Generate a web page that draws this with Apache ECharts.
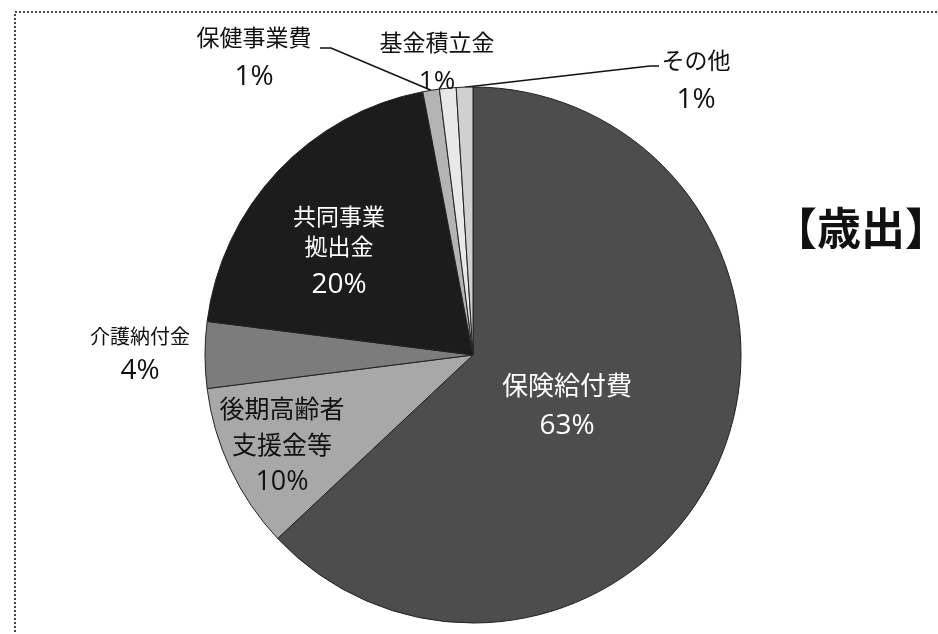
<!DOCTYPE html>
<html>
<head>
<meta charset="utf-8">
<script src="https://cdn.jsdelivr.net/npm/echarts@6/dist/echarts.min.js"></script>
<style>
  html, body { margin: 0; padding: 0; background: #ffffff; }
  #chart { width: 938px; height: 634px; }
</style>
</head>
<body>
<div id="chart"></div>
<script>
// 歳出の内訳（構成比, %）
const categories = ['保険給付費', '後期高齢者\n支援金等', '介護納付金', '共同事業\n拠出金', '保健事業費', '基金積立金', 'その他'];
const shares = [63, 10, 4, 20, 1, 1, 1];
const sliceColors = ['#4d4d4d', '#a8a8a8', '#7c7c7c', '#1c1c1c', '#b4b4b4', '#e8e8e8', '#d0d0d0'];
const titleText = '【歳出】';

const JP = '"Noto Sans CJK JP", sans-serif';
const NUM = '"Open Sans", "Noto Sans", sans-serif';

// label block placement (centre of each text block) and leader-line bends
const labelPlace = [
  { x: 567, y: 406 },
  { x: 282, y: 446 },
  { x: 140, y: 354 },
  { x: 339, y: 255 },
  { x: 254, y: 57, line: [[331, 48], [320, 48]] },
  { x: 437, y: 62 },
  { x: 696, y: 80, line: [[650, 66], [659, 66]] }
];

const labelStyles = [
  { color: '#ffffff', n: 26, p: 28, nh: 41, ph: 41, pos: 'inside' },
  { color: '#111111', n: 25, p: 27, nh: 36, ph: 40, pos: 'inside' },
  { color: '#111111', n: 20, p: 28, nh: 35, ph: 35, pos: 'outside' },
  { color: '#ffffff', n: 23, p: 28, nh: 30, ph: 48, pos: 'inside' },
  { color: '#111111', n: 23, p: 28, nh: 40, ph: 40, pos: 'outside' },
  { color: '#111111', n: 23, p: 26, nh: 40, ph: 40, pos: 'outside' },
  { color: '#111111', n: 23, p: 28, nh: 40, ph: 40, pos: 'outside' }
];

const pieData = categories.map((name, i) => {
  const s = labelStyles[i];
  return {
    name: name,
    value: shares[i],
    itemStyle: { color: sliceColors[i] },
    label: {
      position: s.pos,
      formatter: '{n|{b}}\n{p|{c}%}',
      rich: {
        n: { fontFamily: JP, fontSize: s.n, lineHeight: s.nh, color: s.color, align: 'center' },
        p: { fontFamily: NUM, fontSize: s.p, lineHeight: s.ph, color: s.color, align: 'center' }
      }
    },
    labelLine: {
      show: !!labelPlace[i].line,
      lineStyle: { color: '#111111', width: 1.5 }
    }
  };
});

const chart = echarts.init(document.getElementById('chart'), null, { renderer: 'canvas' });
chart.setOption({
  backgroundColor: '#ffffff',
  animation: false,
  graphic: [
    {
      type: 'rect',
      shape: { x: 15, y: 12, width: 1000, height: 700 },
      style: { fill: 'none', stroke: '#444444', lineWidth: 2, lineDash: [2, 2] },
      z: 0
    },
    {
      type: 'text',
      left: 773,
      top: 206,
      style: { text: titleText, font: 'bold 44px "Noto Sans CJK JP", sans-serif', fill: '#111111' },
      z: 10
    }
  ],
  series: [{
    type: 'pie',
    center: [473, 355],
    radius: 268,
    startAngle: 90,
    clockwise: true,
    avoidLabelOverlap: false,
    itemStyle: { borderColor: '#222222', borderWidth: 1 },
    label: { show: true },
    labelLine: { show: true, length: 20, length2: 10 },
    labelLayout: function (params) {
      const p = labelPlace[params.dataIndex];
      const out = { x: p.x, y: p.y, align: 'center', verticalAlign: 'middle' };
      if (p.line && params.labelLinePoints) {
        const edge = params.labelLinePoints[0];
        out.labelLinePoints = [edge, p.line[0], p.line[1]];
      }
      return out;
    },
    emphasis: { disabled: true },
    data: pieData
  }]
});
</script>
</body>
</html>
